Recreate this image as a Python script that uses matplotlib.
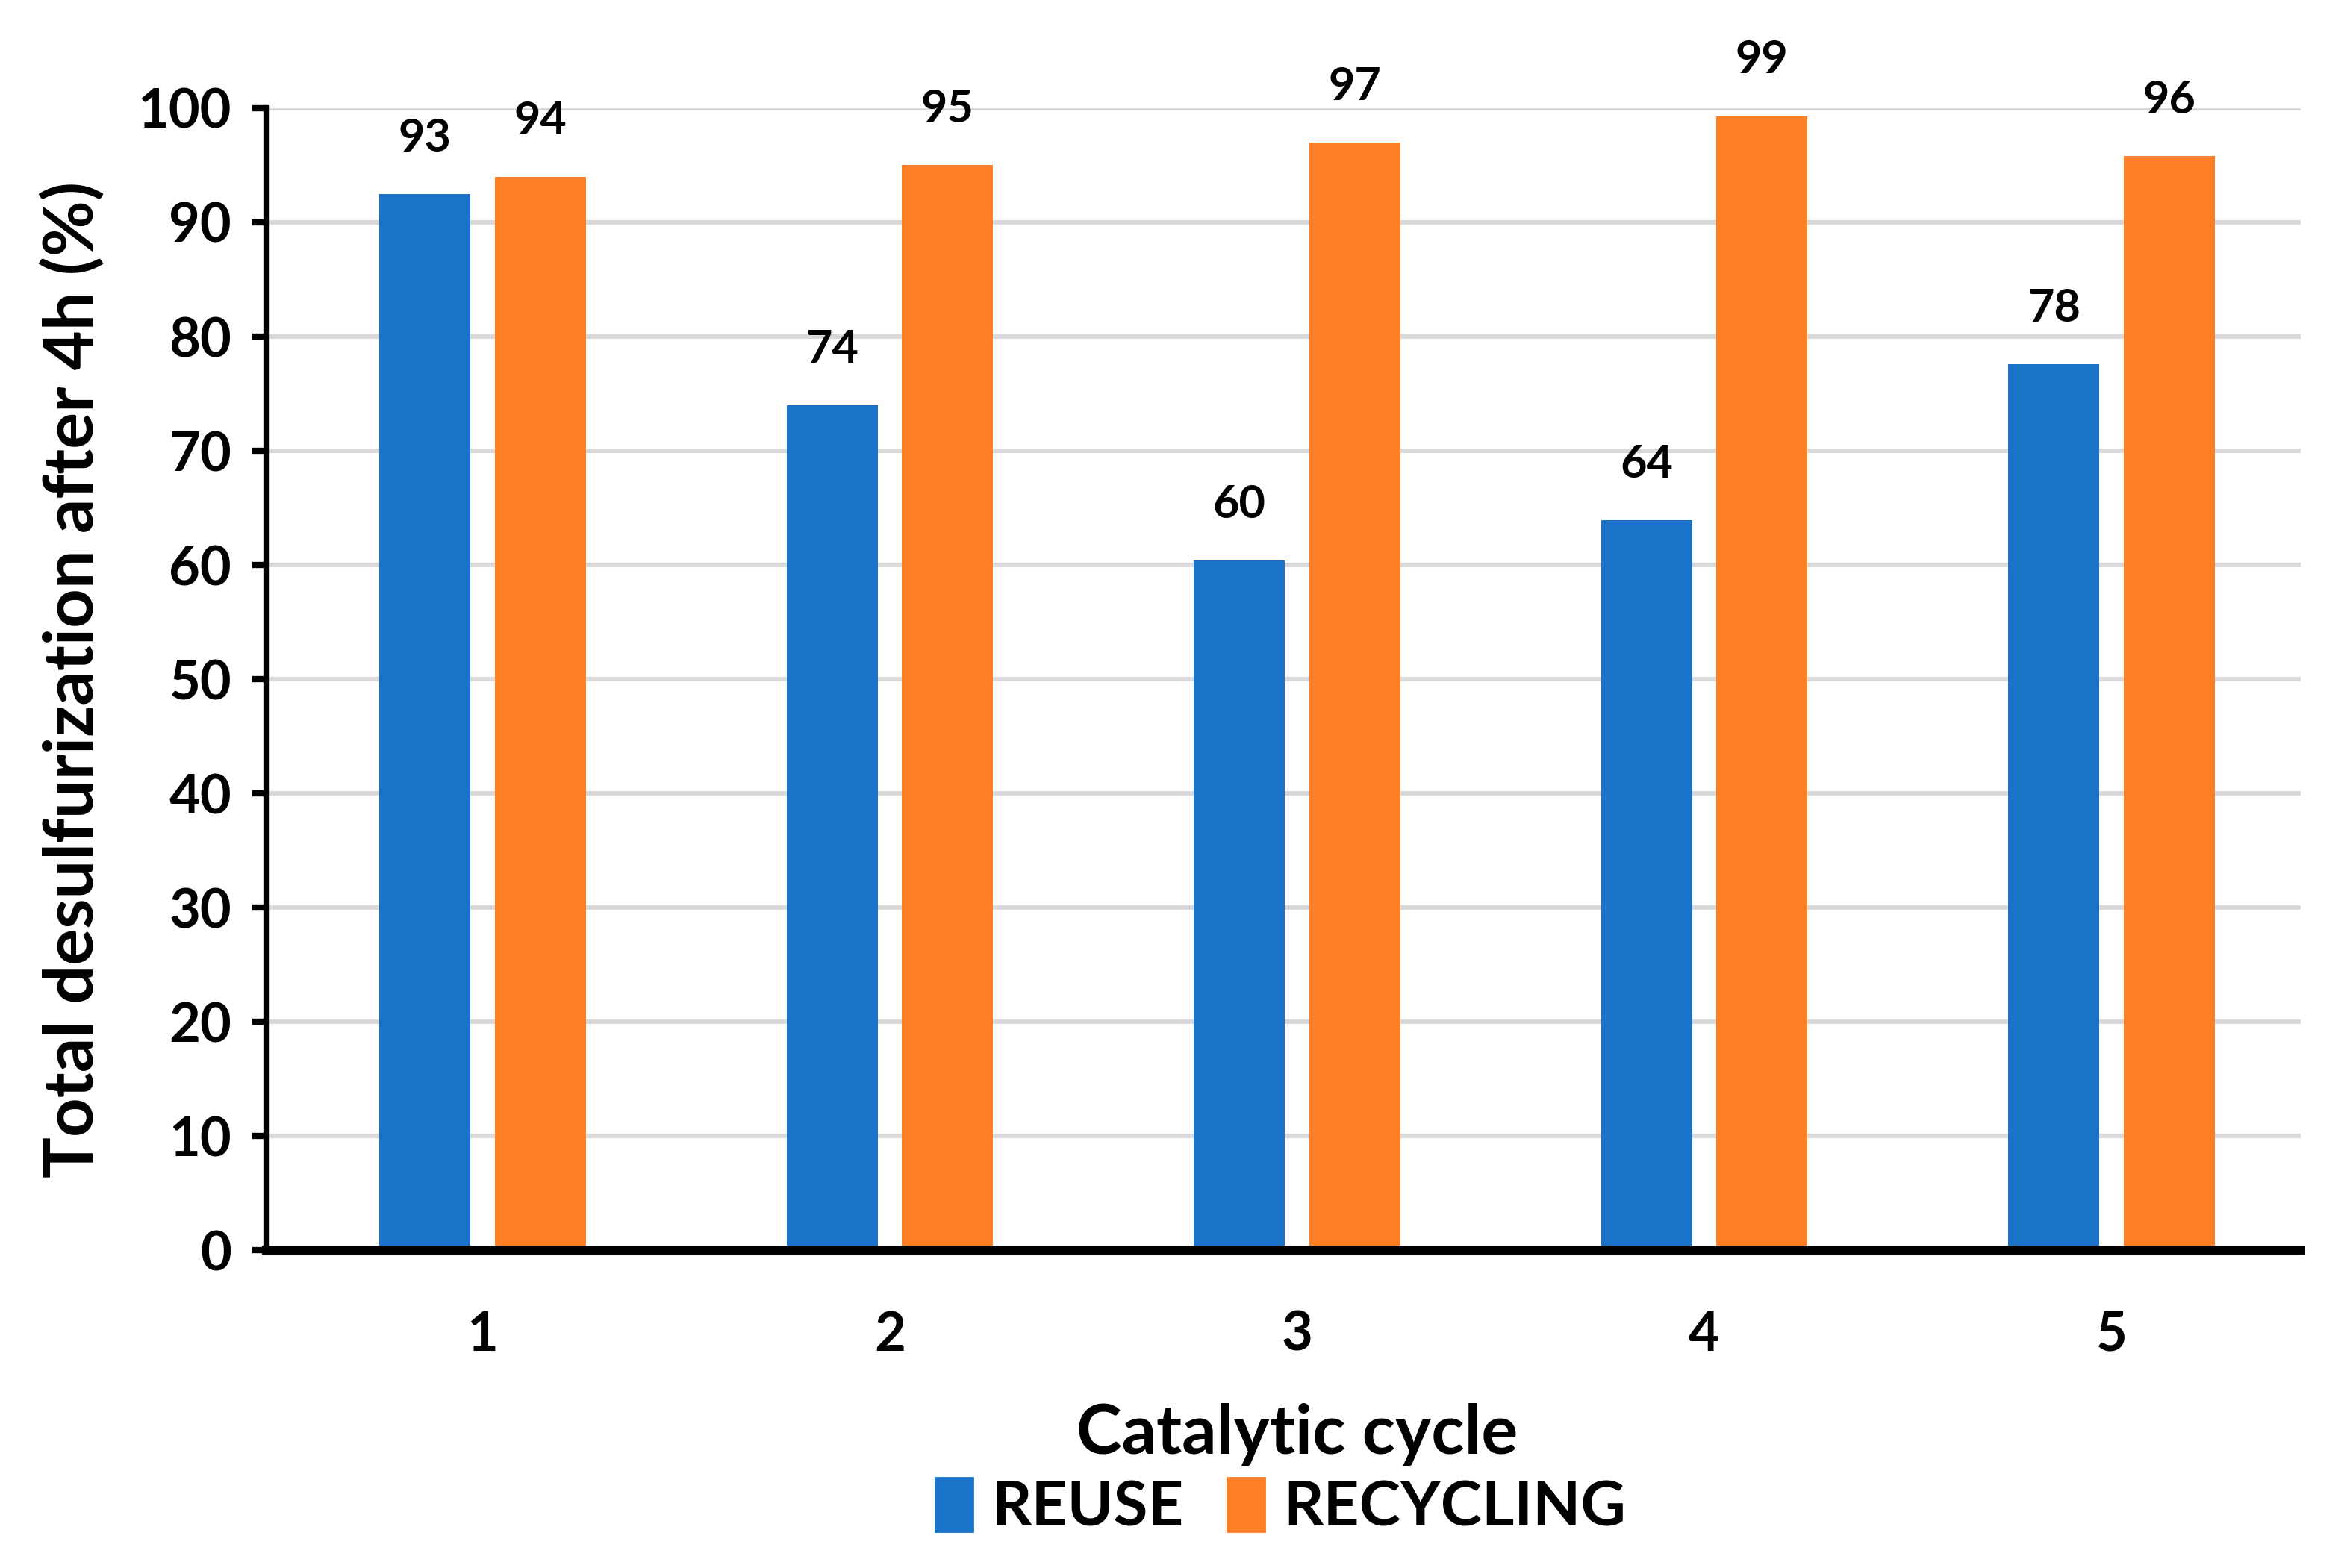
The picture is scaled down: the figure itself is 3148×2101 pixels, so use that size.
import matplotlib
matplotlib.use("Agg")
import matplotlib.pyplot as plt
import numpy as np
from matplotlib.patches import Patch

plt.rcParams['font.family'] = ['Lato', 'DejaVu Sans']
plt.rcParams['font.weight'] = 'bold'

cycles = ["1", "2", "3", "4", "5"]
reuse = [92.5, 74.0, 60.4, 63.9, 77.6]
recycling = [94.0, 95.0, 97.0, 99.3, 95.8]
reuse_labels = ["93", "74", "60", "64", "78"]
recycling_labels = ["94", "95", "97", "99", "96"]
yticks = [0, 10, 20, 30, 40, 50, 60, 70, 80, 90, 100]

BLUE = "#1A73C8"
ORANGE = "#FF7F27"

fig = plt.figure(figsize=(15.74, 10.505), dpi=200)
ax = fig.add_axes([0.1135, 0.2027, 0.8654, 0.7283])

x = np.arange(len(cycles))
w = 0.224
off = 0.1415
b1 = ax.bar(x - off, reuse, w, color=BLUE, label="REUSE", zorder=3)
b2 = ax.bar(x + off, recycling, w, color=ORANGE, label="RECYCLING", zorder=3)

for bars, labs in ((b1, reuse_labels), (b2, recycling_labels)):
    for r, t in zip(bars, labs):
        ax.annotate(t, (r.get_x() + r.get_width() / 2, r.get_height()),
                    xytext=(0, 17), textcoords="offset points",
                    ha="center", va="bottom", fontsize=22, fontweight="bold")

ax.set_ylim(0, 100)
ax.set_xlim(-0.53, 4.464)
ax.set_yticks(yticks)
ax.set_xticks(x)
ax.set_xticklabels(cycles)
ax.yaxis.grid(True, color="#D9D9D9", linewidth=2.2, zorder=0)
ax.set_axisbelow(True)

for s in ("top", "right"):
    ax.spines[s].set_visible(False)
ax.spines["left"].set_linewidth(3)
ax.spines["bottom"].set_linewidth(4.3)
ax.spines["left"].set_zorder(4)
ax.spines["bottom"].set_zorder(4)

ax.tick_params(axis="y", length=7, width=3, direction="out", labelsize=26, pad=10)
ax.tick_params(axis="x", length=0, labelsize=26, pad=29)
for lab in ax.get_yticklabels() + ax.get_xticklabels():
    lab.set_fontweight("bold")

ax.set_ylabel("Total desulfurization after 4h (%)", fontsize=33, fontweight="bold", labelpad=16)
fig.text(0.552, 0.085, "Catalytic cycle", ha="center", va="center",
         fontsize=33, fontweight="bold")

handles = [Patch(color=BLUE, label="REUSE"), Patch(color=ORANGE, label="RECYCLING")]
fig.legend(handles=handles, loc="center", bbox_to_anchor=(0.545, 0.039), ncol=2,
           frameon=False, prop={"size": 30, "weight": "bold"},
           handlelength=0.6, handleheight=0.95, handletextpad=0.3, columnspacing=0.7)

fig.savefig("out.png", dpi=200)
